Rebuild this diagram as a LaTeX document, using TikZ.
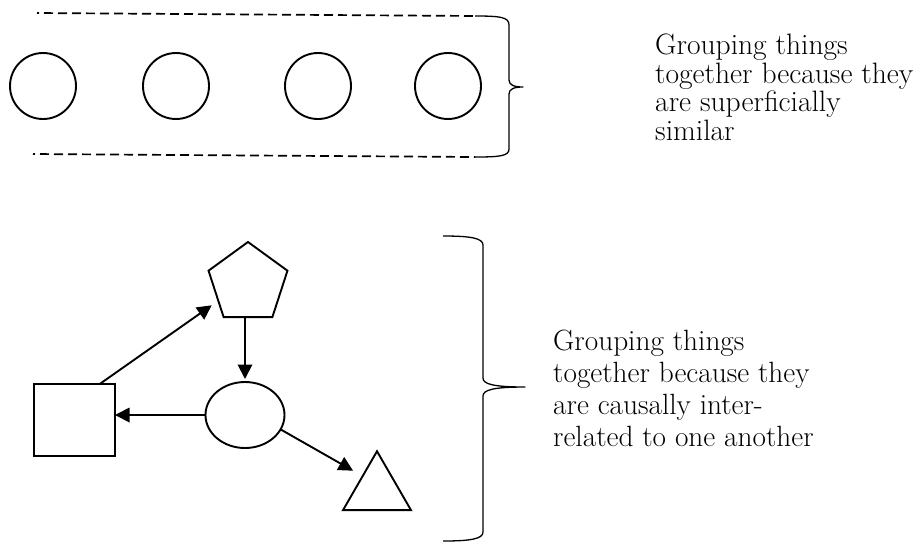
\documentclass[tikz,border=0pt]{standalone}
\usetikzlibrary{shapes.geometric,arrows.meta}
\begin{document}
\begin{tikzpicture}[x=1pt,y=-1pt,
  shp/.style={draw,line width=1.9pt,inner sep=0pt,outer sep=0pt},
  conn/.style={line width=1.9pt,-{Triangle[length=14.5pt,width=14.5pt]}},
  dashline/.style={line width=1.7pt,dash pattern=on 9pt off 5pt,dash phase=7pt},
  bracepath/.style={line width=1.3pt,line join=round},
  lbl/.style={align=left,anchor=north west,inner sep=0pt}]
\useasboundingbox (0,0) rectangle (917,542);
% top group
\node[shp,circle,minimum size=66pt] (c1) at (43,86) {};
\node[shp,circle,minimum size=66pt] (c2) at (176,86) {};
\node[shp,circle,minimum size=66pt] (c3) at (318,86) {};
\node[shp,circle,minimum size=66pt] (c4) at (448,86) {};
\coordinate (dt1) at (37,13);
\coordinate (dt2) at (475,16);
\coordinate (db1) at (33,154);
\coordinate (db2) at (475,157);
\draw[dashline] (dt1) -- (dt2);
\draw[dashline] (db1) -- (db2);
\draw[bracepath] (dt2) .. controls (500,16) and (509,17) .. (509,25) -- (509,80)
  .. controls (509,85) and (514,87) .. (523,87)
  .. controls (514,87) and (509,89) .. (509,94) -- (509,149)
  .. controls (509,156) and (500,157) .. (db2);
\node[lbl,font=\fontsize{29.5}{28.7}\selectfont] (t1) at (655,33.5)
  {Grouping things\\together because they\\are superficially\\similar};
% bottom group
\node[shp,regular polygon,regular polygon sides=5,minimum size=83pt] (pent) at (248,283.5) {};
\node[shp,ellipse,minimum width=79pt,minimum height=66pt] (ell) at (245,415) {};
\node[shp,rectangle,minimum width=81pt,minimum height=72pt] (sq) at (74.5,420) {};
\node[shp,regular polygon,regular polygon sides=3,minimum size=78.5pt] (tri) at (377,490.5) {};
\draw[conn,shorten >=8pt] (sq.55) -- (pent.210);
\draw[conn,shorten >=3pt] (ell.north |- pent.south) -- (ell.north);
\draw[conn] (ell.west) -- (ell.west -| sq.east);
\draw[conn,shorten >=11pt] (ell.-22) -- (tri.135);
\draw[bracepath] (443,236) .. controls (470,236) and (483,238) .. (483,245) -- (483,378)
  .. controls (483,384) and (493,387) .. (525,387)
  .. controls (493,387) and (483,390) .. (483,396) -- (483,532)
  .. controls (483,539) and (470,541) .. (443,541);
\node[lbl,font=\fontsize{29.3}{32}\selectfont] (t2) at (553,329.5)
  {Grouping things\\together because they\\are causally inter-\\related to one another};
\end{tikzpicture}
\end{document}
